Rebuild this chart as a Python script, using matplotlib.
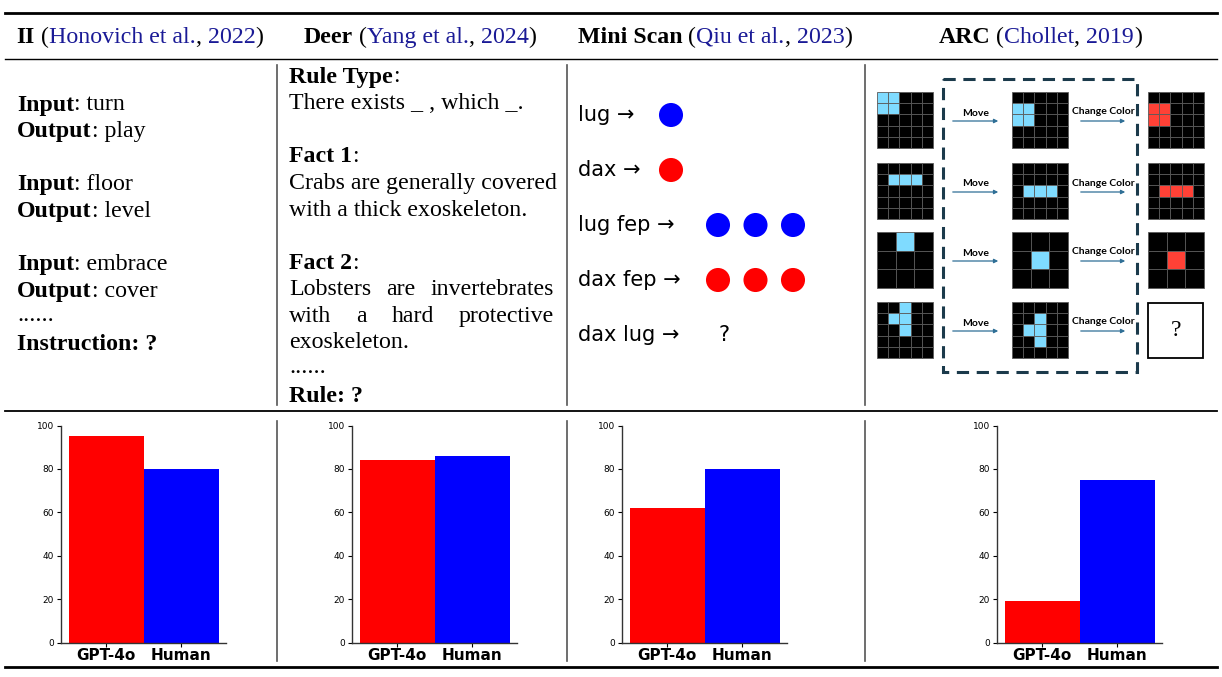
import matplotlib.pyplot as plt
from matplotlib.patches import Rectangle

W, H = 1222, 677

# header
datasets = ["II", "Deer", "Mini Scan", "ARC"]
citations = ["Honovich et al.", "Yang et al.", "Qiu et al.", "Chollet"]
years = ["2022", "2024", "2023", "2019"]

# bar chart values
models = ["GPT-4o", "Human"]
gpt4o_scores = [95, 84, 62, 19]
human_scores = [80, 86, 80, 75]

# II examples
ii_inputs = ["turn", "floor", "embrace"]
ii_outputs = ["play", "level", "cover"]

# Deer example
deer_rule_type = "There exists _ , which _."
deer_fact1 = ["Crabs are generally covered", "with a thick exoskeleton."]
deer_fact2 = ["Lobsters are invertebrates", "with a hard protective", "exoskeleton."]

# Mini Scan example
scan_commands = ["lug", "dax", "lug fep", "dax fep", "dax lug"]
scan_outputs = [["blue"], ["red"], ["blue", "blue", "blue"], ["red", "red", "red"], []]

# ARC example: grid size and coloured cells (row, col)
arc_sizes = [5, 5, 3, 5]
arc_inputs = [[(0, 0), (0, 1), (1, 0), (1, 1)], [(1, 1), (1, 2), (1, 3)],
              [(0, 1)], [(0, 2), (1, 1), (1, 2), (2, 2)]]
arc_moved = [[(1, 0), (1, 1), (2, 0), (2, 1)], [(2, 1), (2, 2), (2, 3)],
             [(1, 1)], [(1, 2), (2, 1), (2, 2), (3, 2)]]
arc_known_output = [True, True, True, False]

SERIF = "Liberation Serif"
NAVY = "#1a1a96"
ARC_BLUE = "#7FDBFF"
ARC_RED = "#FF4136"

fig = plt.figure(figsize=(W / 100, H / 100), dpi=100)
ax = fig.add_axes([0, 0, 1, 1])
ax.set_xlim(0, W)
ax.set_ylim(H, 0)
ax.axis("off")
renderer = fig.canvas.get_renderer()


def rich(x, y, parts, size=17.2, family=SERIF):
    # parts: (text, weight, color); drawn left to right on one baseline
    texts = []
    for s, wt, col in parts:
        t = ax.text(x, y, s, fontsize=size, fontweight=wt, color=col,
                    family=family, ha="left", va="baseline")
        x += t.get_window_extent(renderer).width
        texts.append(t)
    return texts, x


def justify(words, x0, x1, y, size=17.2):
    texts = [ax.text(0, y, w, fontsize=size, family=SERIF, va="baseline") for w in words]
    widths = [t.get_window_extent(renderer).width for t in texts]
    gap = (x1 - x0 - sum(widths)) / (len(words) - 1)
    x = x0
    for t, w in zip(texts, widths):
        t.set_x(x)
        x += w + gap


# rules
ax.plot([5, 1217], [13, 13], color="black", lw=2.0)
ax.plot([5, 1217], [59, 59], color="black", lw=1.0)
ax.plot([5, 1217], [411, 411], color="black", lw=1.3)
ax.plot([5, 1217], [667, 667], color="black", lw=2.0)
for xs in [277, 567, 865]:
    ax.plot([xs, xs], [65, 405], color="#555555", lw=1.2)
    ax.plot([xs, xs], [421, 661], color="#555555", lw=1.2)

# header
centers = [140, 420, 715, 1040]
for name, cite, yr, cx in zip(datasets, citations, years, centers):
    texts, xe = rich(0, 43, [(name, "bold", "black"), (" (", "normal", "black"),
                             (cite, "normal", NAVY), (", ", "normal", "black"),
                             (yr, "normal", NAVY), (")", "normal", "black")])
    shift = cx - xe / 2
    for t in texts:
        t.set_x(t.get_position()[0] + shift)

# II column
pitch = 26.6
base = 110.5
k = 0
for inp, out in zip(ii_inputs, ii_outputs):
    rich(17, base + pitch * k, [("Input", "bold", "black"), (": " + inp, "normal", "black")])
    rich(17, base + pitch * (k + 1), [("Output", "bold", "black"), (": " + out, "normal", "black")])
    k += 3
rich(17, base + pitch * 8 - 2, [("......", "normal", "black")])
rich(17, base + pitch * 9, [("Instruction: ?", "bold", "black")])

# Deer column
dx0, dx1 = 289, 554
base = 82.5
rich(dx0, base, [("Rule Type", "bold", "black"), (":", "normal", "black")])
rich(dx0, base + pitch, [(deer_rule_type, "normal", "black")])
rich(dx0, base + pitch * 3, [("Fact 1", "bold", "black"), (":", "normal", "black")])
for i, line in enumerate(deer_fact1):
    rich(dx0, base + pitch * (4 + i), [(line, "normal", "black")])
rich(dx0, base + pitch * 7, [("Fact 2", "bold", "black"), (":", "normal", "black")])
for i, line in enumerate(deer_fact2):
    y = base + pitch * (8 + i)
    if i < len(deer_fact2) - 1:
        justify(line.split(), dx0, dx1, y)
    else:
        rich(dx0, y, [(line, "normal", "black")])
rich(dx0, base + pitch * 11 - 2, [("......", "normal", "black")])
rich(dx0, base + pitch * 12, [("Rule: ?", "bold", "black")])

# Mini Scan column
for i, (cmd, outs) in enumerate(zip(scan_commands, scan_outputs)):
    y = 115 + 55 * i
    ax.text(578, y, cmd + " \u2192", fontsize=15, family="DejaVu Sans", va="center", ha="left")
    if len(outs) == 1:
        xs = [671]
    else:
        xs = [718 + 37.5 * j for j in range(len(outs))]
    if outs:
        ax.scatter(xs, [y] * len(outs), s=300, c=outs, edgecolors="none", zorder=3)
    else:
        ax.text(724, y, "?", fontsize=15, family="DejaVu Sans", va="center", ha="center")

# ARC column
def draw_grid(x0, y0, n, cells, color, size=56):
    c = size / n
    for r in range(n):
        for q in range(n):
            fc = color if (r, q) in cells else "black"
            ax.add_patch(Rectangle((x0 + q * c, y0 + r * c), c, c, facecolor=fc,
                                   edgecolor="#5a5a5a", lw=0.6))


row_tops = [92, 163, 232, 302]
arrow_col = "#2f6f96"
for i, top in enumerate(row_tops):
    n = arc_sizes[i]
    draw_grid(877, top, n, arc_inputs[i], ARC_BLUE)
    draw_grid(1012, top, n, arc_moved[i], ARC_BLUE)
    if arc_known_output[i]:
        draw_grid(1148, top, n, arc_moved[i], ARC_RED)
    else:
        ax.add_patch(Rectangle((1148, top + 1), 55, 55, facecolor="white",
                               edgecolor="black", lw=1.3))
        ax.text(1175.5, top + 29, "?", fontsize=17, family=SERIF, ha="center", va="center")
    ay = top + 29
    ax.annotate("", xy=(1001, ay), xytext=(950, ay),
                arrowprops=dict(arrowstyle="-|>", color=arrow_col, lw=0.9, mutation_scale=6))
    ax.annotate("", xy=(1128, ay), xytext=(1078, ay),
                arrowprops=dict(arrowstyle="-|>", color=arrow_col, lw=0.9, mutation_scale=6))
    ax.text(976, top + 21, "Move", fontsize=7.5, family="Lato", fontweight="bold",
            ha="center", va="center")
    ax.text(1103, top + 20, "Change Color", fontsize=7.5, family="Lato", fontweight="bold",
            ha="center", va="center")

ax.add_patch(Rectangle((943, 79), 194, 293, fill=False, ls=(0, (4, 2.5)), lw=2.2,
                       ec="#1b3a4b"))

# bar charts
lefts = [61, 352, 622, 997]
for left, g, h in zip(lefts, gpt4o_scores, human_scores):
    bx = fig.add_axes([left / W, 1 - 642.5 / H, 165 / W, 217 / H])
    bx.bar([0, 1], [g, h], width=1.0, color=["red", "blue"])
    bx.set_ylim(0, 100)
    bx.set_yticks([0, 20, 40, 60, 80, 100])
    bx.set_xticks([0, 1])
    bx.set_xticklabels(models, fontsize=11, fontweight="bold")
    bx.tick_params(axis="y", labelsize=6.5, length=3, width=0.8, pad=2)
    bx.tick_params(axis="x", length=3, width=0.8, pad=1)
    bx.spines["top"].set_visible(False)
    bx.spines["right"].set_visible(False)
    for sp in ["left", "bottom"]:
        bx.spines[sp].set_color("#333333")
        bx.spines[sp].set_linewidth(1.0)

fig.savefig("out.png", dpi=100)
